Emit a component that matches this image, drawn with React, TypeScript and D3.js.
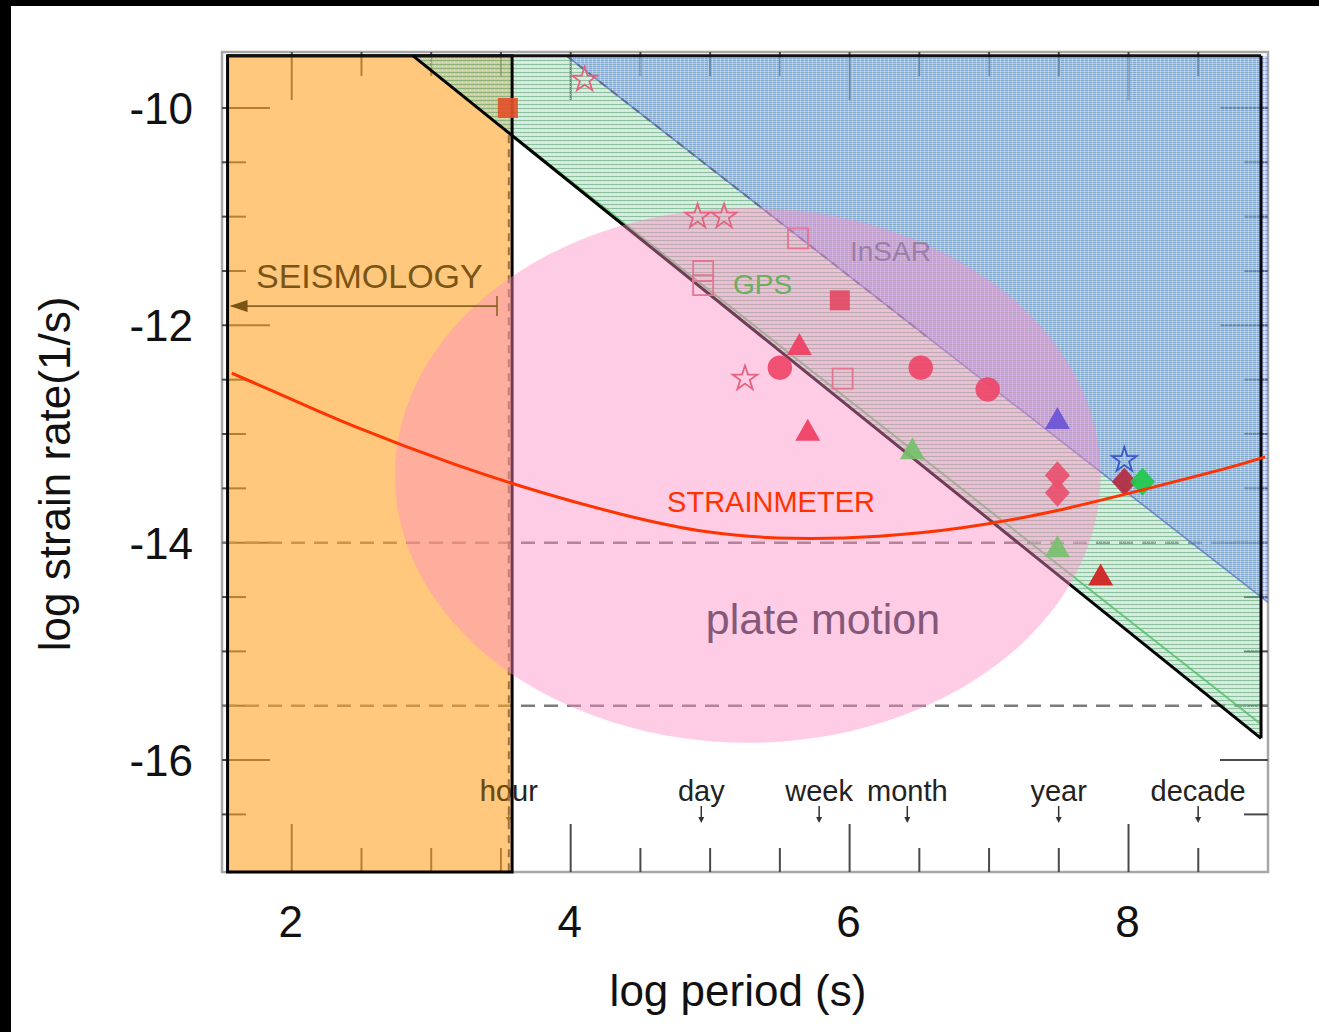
import React from "react";
import * as d3 from "d3";

// Axis ticks
const xMajorTicks = [2, 4, 6, 8];
const xMinorTicks = [2.5, 3, 3.5, 4.5, 5, 5.5, 6.5, 7, 7.5, 8.5];
const yMajorTicks = [-10, -12, -14, -16];
const yMinorTicks = [-10.5, -11, -11.5, -12.5, -13, -13.5, -14.5, -15, -15.5, -16.5];

// Reference time scales (seconds)
const timeNames = ["hour", "day", "week", "month", "year", "decade"];
const timeSeconds = [3600, 86400, 604800, 2592000, 31557600, 315576000];

// Seismology band (log period)
const seismoPeriod = [1.54, 3.58];
const seismoRateTop = -9.52;

// GPS detection limit and its edge
const gpsLimitPeriod = [2.87, 8.95];
const gpsLimitRate = [-9.52, -15.8];
const gpsEdgePeriod = [3.58, 8.95];
const gpsEdgeRate = [-10.25, -15.67];

// InSAR detection limit
const insarLimitPeriod = [3.97, 9.0];
const insarLimitRate = [-9.52, -14.55];

// Horizontal noise levels
const noiseLevels = [-14, -15.5];

// Strainmeter detection curve
const strainmeterPeriod = [1.57, 1.98, 2.45, 3.17, 3.8, 4.37, 4.98, 5.6, 6.21, 6.82, 7.43, 8.05, 8.66, 8.98];
const strainmeterRate = [-12.44, -12.67, -12.93, -13.28, -13.54, -13.74, -13.9, -13.96, -13.94, -13.86, -13.72, -13.53, -13.33, -13.21];

// Plate motion domain
const plateCenter = [5.27, -13.38];
const plateRadii = [2.53, 2.46];

// Observations
const obsPeriod = [3.55, 4.1, 4.91, 5.1, 5.25, 5.63, 4.95, 4.95, 5.95, 5.93, 5.64, 5.7, 5.5, 6.51, 6.99, 7.49, 6.45, 7.49, 7.49, 7.49, 7.8, 7.97, 8.1, 7.97];
const obsRate = [-10.0, -9.74, -11.0, -11.0, -12.49, -11.2, -11.5, -11.63, -12.49, -11.77, -12.19, -12.98, -12.39, -12.39, -12.59, -12.87, -13.15, -14.05, -13.38, -13.54, -14.31, -13.44, -13.44, -13.24];
const obsKind = [
  "seismic", "openStar", "openStar", "openStar", "openStar", "openSquare", "openSquare", "openSquare", "openSquare",
  "redSquare", "redTriangle", "redTriangle", "redCircle", "redCircle", "redCircle", "purpleTriangle",
  "greenTriangle", "greenTriangle", "redDiamond", "redDiamond", "darkRedTriangle", "darkRedDiamond", "greenDiamond", "blueStar",
];

const markerStyle: Record<string, { shape: string; fill: string; stroke: string }> = {
  seismic: { shape: "square", fill: "#e2522a", stroke: "none" },
  openStar: { shape: "star", fill: "none", stroke: "#e2647e" },
  openSquare: { shape: "square", fill: "none", stroke: "#e07690" },
  redSquare: { shape: "square", fill: "#e44a64", stroke: "none" },
  redTriangle: { shape: "triangle", fill: "#ef3e62", stroke: "none" },
  redCircle: { shape: "circle", fill: "#ef4669", stroke: "none" },
  purpleTriangle: { shape: "triangle", fill: "#6a52d6", stroke: "none" },
  greenTriangle: { shape: "triangle", fill: "#76c06c", stroke: "none" },
  redDiamond: { shape: "diamond", fill: "#e8506c", stroke: "none" },
  darkRedTriangle: { shape: "triangle", fill: "#d01e1e", stroke: "none" },
  darkRedDiamond: { shape: "diamond", fill: "#b42a40", stroke: "none" },
  greenDiamond: { shape: "diamond", fill: "#1fc84a", stroke: "none" },
  blueStar: { shape: "star", fill: "none", stroke: "#3a58c8" },
};

const W = 1319;
const H = 1032;
const PL = 222, PR = 1268, PT = 52, PB = 872;
const FONT = "'Liberation Sans', Arial, Helvetica, sans-serif";

const xScale = d3.scaleLinear().domain([1.5, 9.0]).range([PL, PR]);
const yScale = d3.scaleLinear().domain([-17.03, -9.485]).range([PB, PT]);

function markerPath(shape: string): string {
  if (shape === "circle") return d3.symbol().type(d3.symbolCircle).size(470)() as string;
  if (shape === "star") return d3.symbol().type(d3.symbolStar).size(190)() as string;
  if (shape === "square") return "M-10,-10H10V10H-10Z";
  if (shape === "triangle") return "M0,-13L12.5,9H-12.5Z";
  return "M0,-14L12.5,0L0,14L-12.5,0Z";
}

export default function App() {
  const majorLen = 48;
  const minorLen = 24;
  const tickColor = "#4a4a4a";

  const strainLine = d3
    .line<number>()
    .x((d) => xScale(d))
    .y((_, i) => yScale(strainmeterRate[i]))
    .curve(d3.curveNatural)(strainmeterPeriod) as string;

  const gpsRegion = [
    [gpsLimitPeriod[0], gpsLimitRate[0]],
    [gpsLimitPeriod[1], gpsLimitRate[1]],
    [gpsLimitPeriod[1], gpsLimitRate[0]],
  ];
  const insarRegion = [
    [insarLimitPeriod[0], insarLimitRate[0]],
    [insarLimitPeriod[1], insarLimitRate[1]],
    [insarLimitPeriod[1], insarLimitRate[0]],
  ];
  const poly = (pts: number[][]) =>
    "M" + pts.map((p) => `${xScale(p[0])},${yScale(p[1])}`).join("L") + "Z";

  const insarSlope = (insarLimitRate[1] - insarLimitRate[0]) / (insarLimitPeriod[1] - insarLimitPeriod[0]);
  const insarDashEnd = 6.55;

  const seisX0 = xScale(seismoPeriod[0]);
  const seisX1 = xScale(seismoPeriod[1]);
  const seisY0 = yScale(seismoRateTop);
  const hourX = xScale(Math.log10(timeSeconds[0]));

  const allTicksX = [...xMajorTicks.map((v) => [v, majorLen]), ...xMinorTicks.map((v) => [v, minorLen])];
  const allTicksY = [...yMajorTicks.map((v) => [v, majorLen]), ...yMinorTicks.map((v) => [v, minorLen])];

  const arrowY = yScale(-11.823);
  const timeLabelY = 801;

  return (
    <svg
      width={W}
      height={H}
      viewBox={`0 0 ${W} ${H}`}
      style={{ position: "absolute", left: 0, top: 0, background: "#fff" }}
      fontFamily={FONT}
    >
      <defs>
        <pattern id="gpsHatch" width="4" height="4" patternUnits="userSpaceOnUse">
          <rect width="4" height="4" fill="rgb(150,215,175)" fillOpacity="0.45" />
          <rect width="4" height="1" fill="rgb(70,150,100)" fillOpacity="0.5" />
          <rect x="2" y="2" width="1" height="1" fill="#ffffff" fillOpacity="0.55" />
        </pattern>
        <pattern id="insarHatch" width="4" height="4" patternUnits="userSpaceOnUse">
          <rect width="4" height="4" fill="rgb(105,145,235)" fillOpacity="0.36" />
          <rect y="2" width="4" height="1" fill="rgb(60,100,220)" fillOpacity="0.38" />
          <rect x="0" width="1" height="4" fill="#ffffff" fillOpacity="0.3" />
        </pattern>
        <clipPath id="seisClip">
          <rect x={seisX0} y={seisY0} width={seisX1 - seisX0} height={PB - seisY0} />
        </clipPath>
      </defs>

      {/* page frame bars */}
      <rect x={0} y={0} width={W} height={6} fill="#000" />
      <rect x={0} y={0} width={11} height={H} fill="#000" />

      {/* plot frame */}
      <rect x={PL} y={PT} width={PR - PL} height={PB - PT} fill="#fff" stroke="#a8a8a8" strokeWidth={2.5} />

      {/* ticks */}
      <g stroke={tickColor} strokeWidth={2}>
        {allTicksX.map(([v, len]) => (
          <g key={"tx" + v}>
            <line x1={xScale(v)} x2={xScale(v)} y1={PB} y2={PB - len} />
            <line x1={xScale(v)} x2={xScale(v)} y1={PT} y2={PT + len} />
          </g>
        ))}
        {allTicksY.map(([v, len]) => (
          <g key={"ty" + v}>
            <line x1={PL} x2={PL + len} y1={yScale(v)} y2={yScale(v)} />
            <line x1={PR} x2={PR - len} y1={yScale(v)} y2={yScale(v)} />
          </g>
        ))}
      </g>

      {/* noise levels */}
      {noiseLevels.map((v) => (
        <line key={"n" + v} x1={PL} x2={PR} y1={yScale(v)} y2={yScale(v)} stroke="#7c7c7c" strokeWidth={2.4} strokeDasharray="14 9" />
      ))}

      {/* time scale labels */}
      {timeNames.map((name, i) => {
        const x = xScale(Math.log10(timeSeconds[i]));
        return (
          <g key={name}>
            <text x={x} y={timeLabelY} textAnchor="middle" fontSize={29} fill="#222">
              {name}
            </text>
            <line x1={x} x2={x} y1={806} y2={818} stroke="#333" strokeWidth={1.5} />
            <path d={`M${x - 3},${817}L${x + 3},${817}L${x},${823}Z`} fill="#333" />
          </g>
        );
      })}

      {/* seismology band */}
      <rect x={seisX0} y={seisY0} width={seisX1 - seisX0} height={PB - seisY0} fill="rgb(255,163,38)" fillOpacity={0.6} />
      <text x={hourX} y={timeLabelY} textAnchor="middle" fontSize={29} fill="#6e4a12" clipPath="url(#seisClip)">
        hour
      </text>
      <line x1={hourX} x2={hourX} y1={yScale(-10.25)} y2={PB} stroke="#9a7040" strokeWidth={2} strokeDasharray="8 6" />

      {/* GPS and InSAR detection regions */}
      <path d={poly(gpsRegion)} fill="url(#gpsHatch)" />
      <path d={poly(insarRegion)} fill="url(#insarHatch)" />

      {/* region boundaries */}
      <line
        x1={xScale(insarLimitPeriod[0])}
        y1={yScale(insarLimitRate[0])}
        x2={xScale(insarLimitPeriod[1])}
        y2={yScale(insarLimitRate[1])}
        stroke="rgb(70,90,190)"
        strokeOpacity={0.6}
        strokeWidth={1.6}
      />
      <line
        x1={xScale(insarLimitPeriod[0])}
        y1={yScale(insarLimitRate[0])}
        x2={xScale(insarDashEnd)}
        y2={yScale(insarLimitRate[0] + insarSlope * (insarDashEnd - insarLimitPeriod[0]))}
        stroke="rgb(90,100,130)"
        strokeOpacity={0.75}
        strokeWidth={2}
        strokeDasharray="8 6"
      />
      <line
        x1={xScale(gpsEdgePeriod[0])}
        y1={yScale(gpsEdgeRate[0])}
        x2={xScale(gpsEdgePeriod[1])}
        y2={yScale(gpsEdgeRate[1])}
        stroke="rgb(80,190,100)"
        strokeOpacity={0.8}
        strokeWidth={2}
      />
      <rect x={seisX0} y={seisY0} width={seisX1 - seisX0} height={PB - seisY0} fill="none" stroke="#000" strokeWidth={3} />
      <line x1={seisX0} x2={xScale(gpsLimitPeriod[1])} y1={seisY0} y2={seisY0} stroke="#111" strokeWidth={3} />
      <line
        x1={xScale(gpsLimitPeriod[0])}
        y1={yScale(gpsLimitRate[0])}
        x2={xScale(gpsLimitPeriod[1])}
        y2={yScale(gpsLimitRate[1])}
        stroke="#000"
        strokeWidth={3}
      />
      <line
        x1={xScale(gpsLimitPeriod[1])}
        x2={xScale(gpsLimitPeriod[1])}
        y1={yScale(gpsLimitRate[0])}
        y2={yScale(gpsLimitRate[1])}
        stroke="#000"
        strokeWidth={3}
      />

      {/* plate motion domain */}
      <ellipse
        cx={xScale(plateCenter[0])}
        cy={yScale(plateCenter[1])}
        rx={xScale(plateCenter[0] + plateRadii[0]) - xScale(plateCenter[0])}
        ry={yScale(plateCenter[1]) - yScale(plateCenter[1] + plateRadii[1])}
        fill="rgb(255,139,198)"
        fillOpacity={0.44}
      />

      {/* observations */}
      {obsPeriod.map((p, i) => {
        const st = markerStyle[obsKind[i]];
        return (
          <path
            key={"m" + i}
            d={markerPath(st.shape)}
            transform={`translate(${xScale(p)},${yScale(obsRate[i])})`}
            fill={st.fill}
            fillOpacity={st.fill === "none" ? undefined : 0.92}
            stroke={st.stroke}
            strokeWidth={st.stroke === "none" ? 0 : 1.8}
          />
        );
      })}

      {/* strainmeter detection curve */}
      <path d={strainLine} fill="none" stroke="#ff3300" strokeWidth={3} />

      {/* region labels */}
      <text x={256} y={288} fontSize={34} fill="#7a5516">
        SEISMOLOGY
      </text>
      <line x1={seisX0 + 4} x2={497} y1={arrowY} y2={arrowY} stroke="#8a6424" strokeWidth={1.6} />
      <line x1={497} x2={497} y1={arrowY - 10} y2={arrowY + 10} stroke="#8a6424" strokeWidth={1.6} />
      <path d={`M${seisX0 + 2},${arrowY}L${seisX0 + 20},${arrowY - 6}L${seisX0 + 20},${arrowY + 6}Z`} fill="#7a5516" />
      <text x={733} y={294} fontSize={28} fill="#6aaf5a">
        GPS
      </text>
      <text x={850} y={261} fontSize={28} fill="#9a7fa6">
        InSAR
      </text>
      <text x={771} y={512} fontSize={29} fill="#ff3300" textAnchor="middle">
        STRAINMETER
      </text>
      <text x={823} y={634} fontSize={43} fill="#85587a" textAnchor="middle">
        plate motion
      </text>

      {/* axis labels */}
      {yMajorTicks.map((v) => (
        <text key={"yl" + v} x={193} y={yScale(v) + 16} fontSize={44} textAnchor="end" fill="#111">
          {String(v)}
        </text>
      ))}
      {xMajorTicks.map((v) => (
        <text key={"xl" + v} x={xScale(v) - 1} y={937} fontSize={44} textAnchor="middle" fill="#111">
          {String(v)}
        </text>
      ))}
      <text x={738} y={1006} fontSize={44} textAnchor="middle" fill="#111">
        log period (s)
      </text>
      <text transform="translate(70,474) rotate(-90)" fontSize={44} textAnchor="middle" fill="#111">
        log strain rate(1/s)
      </text>
    </svg>
  );
}
